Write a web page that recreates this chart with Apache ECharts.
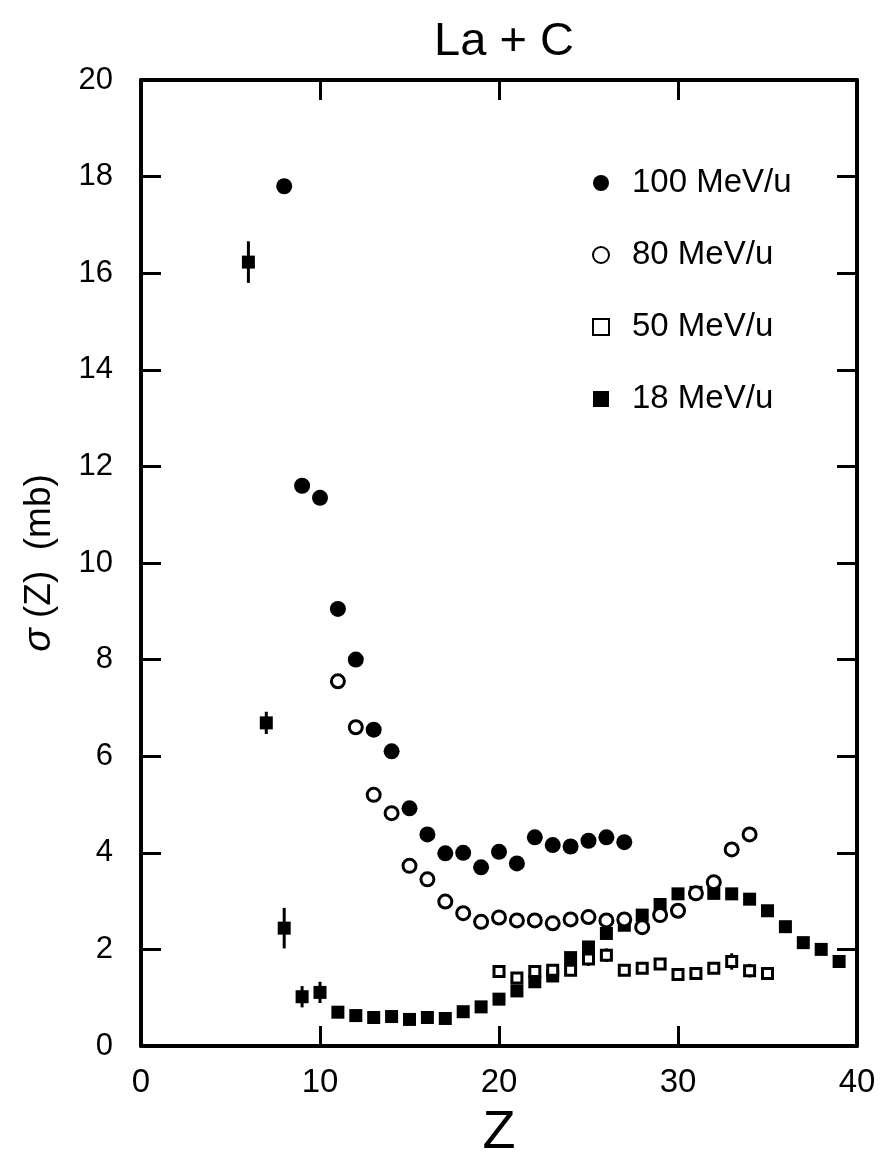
<!DOCTYPE html>
<html>
<head>
<meta charset="utf-8">
<script src="https://cdn.jsdelivr.net/npm/echarts@6/dist/echarts.min.js"></script>
<style>
  html, body { margin: 0; padding: 0; background: #fff; }
  #chart { width: 881px; height: 1154px; }
</style>
</head>
<body>
<div id="chart"></div>
<script>
// Charge-changing cross sections for La + C at four beam energies
const seriesNames = ['100 MeV/u', '80 MeV/u', '50 MeV/u', '18 MeV/u'];

// 100 MeV/u (filled circles)
const z100 = [8, 9, 10, 11, 12, 13, 14, 15, 16, 17, 18, 19, 20, 21, 22, 23, 24, 25, 26, 27];
const s100 = [17.8, 11.6, 11.35, 9.05, 8.0, 6.55, 6.1, 4.92, 4.38, 3.99, 4.0, 3.7, 4.02, 3.78, 4.32, 4.16, 4.13, 4.25, 4.32, 4.22];
const e100 = [0.12, 0, 0, 0, 0, 0, 0, 0, 0, 0, 0, 0, 0, 0, 0, 0, 0, 0, 0, 0];

// 80 MeV/u (open circles)
const z80 = [11, 12, 13, 14, 15, 16, 17, 18, 19, 20, 21, 22, 23, 24, 25, 26, 27, 28, 29, 30, 31, 32, 33, 34];
const s80 = [7.55, 6.6, 5.2, 4.82, 3.73, 3.45, 2.99, 2.75, 2.57, 2.66, 2.6, 2.6, 2.54, 2.62, 2.67, 2.6, 2.62, 2.46, 2.71, 2.8, 3.16, 3.39, 4.07, 4.38];

// 50 MeV/u (open squares)
const z50 = [20, 21, 22, 23, 24, 25, 26, 27, 28, 29, 30, 31, 32, 33, 34, 35];
const s50 = [1.54, 1.41, 1.54, 1.57, 1.57, 1.8, 1.88, 1.57, 1.61, 1.7, 1.48, 1.5, 1.61, 1.75, 1.56, 1.5];
const e50 = [0.08, 0.08, 0.08, 0.1, 0.1, 0.14, 0.14, 0.1, 0.1, 0.12, 0.1, 0.1, 0.12, 0.17, 0.14, 0.12];

// 18 MeV/u (filled squares)
const z18 = [6, 7, 8, 9, 10, 11, 12, 13, 14, 15, 16, 17, 18, 19, 20, 21, 22, 23, 24, 25, 26, 27, 28, 29, 30, 31, 32, 33, 34, 35, 36, 37, 38, 39];
const s18 = [16.23, 6.69, 2.44, 1.02, 1.11, 0.7, 0.63, 0.59, 0.61, 0.55, 0.59, 0.57, 0.71, 0.81, 0.97, 1.14, 1.33, 1.45, 1.83, 2.05, 2.33, 2.5, 2.71, 2.93, 3.15, 3.18, 3.16, 3.15, 3.04, 2.8, 2.47, 2.14, 2.0, 1.75];
const e18 = [0.43, 0.23, 0.42, 0.22, 0.22, 0, 0, 0, 0, 0, 0, 0, 0, 0, 0, 0, 0, 0, 0, 0, 0, 0, 0, 0, 0, 0, 0, 0, 0, 0, 0, 0, 0, 0];

// Axis ranges and tick steps
const xRange = [0, 40], xStep = 10;
const yRange = [0, 20], yStep = 2;

const FONT = "'Liberation Sans', Arial, sans-serif";

function pairs(zs, vs) { return zs.map((z, i) => [z, vs[i]]); }
function errTriples(zs, vs, es) {
  return zs.map((z, i) => [z, vs[i], es[i]]).filter(d => d[2] > 0);
}

function errorBars(data) {
  return {
    type: 'custom',
    silent: true,
    z: 1,
    data: data,
    renderItem: function (params, api) {
      const z = api.value(0), v = api.value(1), e = api.value(2);
      const lo = api.coord([z, v - e]);
      const hi = api.coord([z, v + e]);
      return {
        type: 'line',
        shape: { x1: lo[0], y1: lo[1], x2: hi[0], y2: hi[1] },
        style: { stroke: '#000', lineWidth: 3 }
      };
    }
  };
}

const axisLineStyle = { color: '#000', width: 4 };
const tickStyle = { color: '#000', width: 3 };

function frameAxis(extra) {
  return Object.assign({
    type: 'value',
    axisLine: { show: true, onZero: false, lineStyle: axisLineStyle },
    axisTick: { show: true, inside: true, length: 20, lineStyle: tickStyle },
    splitLine: { show: false }
  }, extra);
}

const chart = echarts.init(document.getElementById('chart'), null, { renderer: 'canvas' });

chart.setOption({
  backgroundColor: '#fff',
  animation: false,
  title: {
    text: 'La + C',
    left: 499,
    top: 14,
    textAlign: 'center',
    textStyle: { fontFamily: FONT, fontSize: 47, fontWeight: 'normal', color: '#000' }
  },
  legend: {
    data: seriesNames,
    orient: 'vertical',
    left: 592,
    top: 163,
    padding: 0,
    itemWidth: 16,
    itemHeight: 16,
    itemGap: 32,
    textStyle: { fontFamily: FONT, fontSize: 33, color: '#000', lineHeight: 40, padding: [0, 0, 0, 18] }
  },
  grid: { left: 141, right: 24, top: 80, bottom: 108, outerBoundsMode: 'none', containLabel: false },
  xAxis: [
    frameAxis({
      min: xRange[0], max: xRange[1], interval: xStep, position: 'bottom',
      name: 'Z', nameLocation: 'middle', nameGap: 60,
      nameTextStyle: { fontFamily: FONT, fontSize: 54, fontStyle: 'normal', color: '#000' },
      axisLabel: { fontFamily: FONT, fontSize: 33, color: '#000', margin: 20 }
    }),
    frameAxis({
      min: xRange[0], max: xRange[1], interval: xStep, position: 'top',
      axisLabel: { show: false }
    })
  ],
  yAxis: [
    frameAxis({
      min: yRange[0], max: yRange[1], interval: yStep, position: 'left',
      name: '{s|σ} (Z)  (mb)', nameLocation: 'middle', nameGap: 82, nameRotate: 90,
      nameTextStyle: {
        fontFamily: FONT, fontSize: 37, color: '#000',
        rich: { s: { fontFamily: FONT, fontSize: 39, fontStyle: 'italic', color: '#000' } }
      },
      axisLabel: { fontFamily: FONT, fontSize: 31, color: '#000', margin: 28 }
    }),
    frameAxis({
      min: yRange[0], max: yRange[1], interval: yStep, position: 'right',
      axisLabel: { show: false }
    })
  ],
  series: [
    errorBars(errTriples(z18, s18, e18)),
    errorBars(errTriples(z50, s50, e50)),
    errorBars(errTriples(z100, s100, e100)),
    {
      name: '18 MeV/u', type: 'scatter', z: 2,
      symbol: 'rect', symbolSize: 13,
      itemStyle: { color: '#000', opacity: 1 },
      data: pairs(z18, s18)
    },
    {
      name: '50 MeV/u', type: 'scatter', z: 3,
      symbol: 'rect', symbolSize: 10,
      itemStyle: { color: '#fff', borderColor: '#000', borderWidth: 3, opacity: 1 },
      data: pairs(z50, s50)
    },
    {
      name: '80 MeV/u', type: 'scatter', z: 4,
      symbol: 'circle', symbolSize: 13,
      itemStyle: { color: '#fff', borderColor: '#000', borderWidth: 3, opacity: 1 },
      data: pairs(z80, s80)
    },
    {
      name: '100 MeV/u', type: 'scatter', z: 5,
      symbol: 'circle', symbolSize: 16,
      itemStyle: { color: '#000', opacity: 1 },
      data: pairs(z100, s100)
    }
  ]
});
</script>
</body>
</html>
